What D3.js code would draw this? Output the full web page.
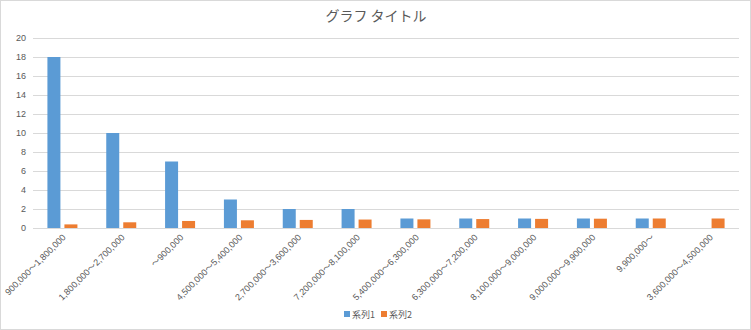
<!DOCTYPE html>
<html><head><meta charset="utf-8">
<script src="https://cdn.jsdelivr.net/npm/d3@7"></script>
<style>
body{margin:0;background:#fff;}
svg{display:block;}
</style></head>
<body>
<svg id="chart" width="751" height="330"></svg>
<script>
const categories = ["900,000～1,800,000","1,800,000～2,700,000","～900,000","4,500,000～5,400,000","2,700,000～3,600,000","7,200,000～8,100,000","5,400,000～6,300,000","6,300,000～7,200,000","8,100,000～9,000,000","9,000,000～9,900,000","9,900,000～","3,600,000～4,500,000"];
const series1 = [18,10,7,3,2,2,1,1,1,1,1,null];
const series2 = [0.38,0.6,0.74,0.81,0.85,0.89,0.91,0.94,0.96,0.98,1,1];
const seriesNames = ["系列1","系列2"];
const yTicks = [0,2,4,6,8,10,12,14,16,18,20];
const title = "グラフ タイトル";
const colors = ["#5B9BD5","#ED7D31"];

const W = 751, H = 330;
const svg = d3.select("#chart");
const fontNum = "'Liberation Sans','Noto Sans CJK JP',sans-serif";
const fontJp = "'Noto Sans CJK JP',sans-serif";

svg.append("rect").attr("x",0.5).attr("y",0.5).attr("width",W-1).attr("height",H-1)
  .attr("fill","#fff").attr("stroke","#D9D9D9");

const m = {left:33, right:12, top:38, bottom:102};
const x = d3.scaleBand().domain(categories).range([m.left, W-m.right]);
const y = d3.scaleLinear().domain([0,20]).range([H-m.bottom, m.top]);

svg.append("text").attr("x",376).attr("y",21).attr("text-anchor","middle")
  .attr("font-family",fontJp).attr("font-size",14).attr("fill","#595959").text(title);

// gridlines
const grid = svg.append("g");
grid.selectAll("line").data(yTicks).join("line")
  .attr("x1",m.left).attr("x2",W-m.right)
  .attr("y1",d=>Math.round(y(d))+0.5).attr("y2",d=>Math.round(y(d))+0.5)
  .attr("stroke","#D9D9D9").attr("stroke-width",1);

// y axis labels
const yAxis = d3.axisLeft(y).tickValues(yTicks).tickSize(0).tickPadding(0);
const ya = svg.append("g").attr("transform",`translate(${m.left-7},0)`).call(yAxis);
ya.select(".domain").remove();
ya.selectAll("text").attr("font-family",fontNum).attr("font-size",9).attr("fill","#595959");

// bars
const bw = 13, gap = 2;
const bars = svg.append("g");
bars.selectAll(".s1").data(categories.map((c,i)=>({c,v:series1[i]})).filter(d=>d.v!=null)).join("rect")
  .attr("x",d=>x(d.c)+x.bandwidth()/2-gap-bw).attr("width",bw)
  .attr("y",d=>y(d.v)).attr("height",d=>y(0)-y(d.v)).attr("fill",colors[0]);
bars.selectAll(".s2").data(categories.map((c,i)=>({c,v:series2[i]})).filter(d=>d.v!=null)).join("rect")
  .attr("x",d=>x(d.c)+x.bandwidth()/2+gap).attr("width",bw)
  .attr("y",d=>y(d.v)).attr("height",d=>y(0)-y(d.v)).attr("fill",colors[1]);

// x axis labels
const xAxis = d3.axisBottom(x).tickSize(0).tickPadding(0);
const xa = svg.append("g").attr("transform",`translate(0,${y(0)})`).call(xAxis);
xa.select(".domain").remove();
xa.selectAll("text")
  .attr("font-family",fontNum).attr("font-size",9).attr("fill","#595959")
  .attr("text-anchor","end").attr("dy",0).attr("y",0)
  .attr("transform","translate(4,10) rotate(-45)");

// legend
const legend = svg.append("g");
const lx = [344, 381];
seriesNames.forEach((n,i)=>{
  legend.append("rect").attr("x",lx[i]).attr("y",311).attr("width",6).attr("height",6).attr("fill",colors[i]);
  legend.append("text").attr("x",lx[i]+8).attr("y",317.5).attr("font-family",fontJp)
    .attr("font-size",9).attr("fill","#595959").text(n);
});
</script>
</body></html>
